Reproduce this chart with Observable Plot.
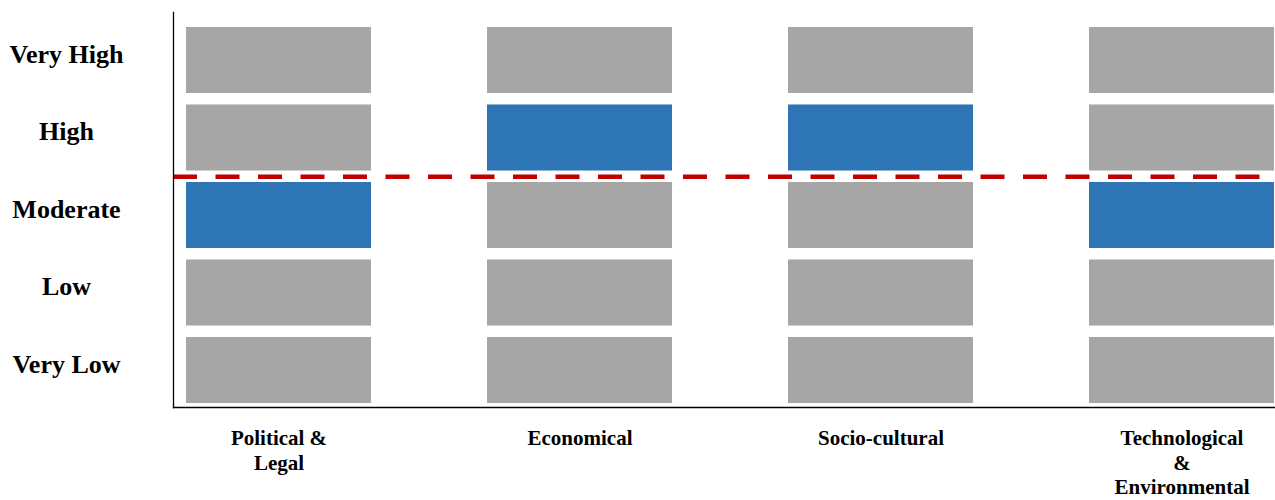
<!DOCTYPE html>
<html>
<head>
<meta charset="utf-8">
<script src="https://cdn.jsdelivr.net/npm/d3@7"></script>
<script src="https://cdn.jsdelivr.net/npm/@observablehq/plot@0.6"></script>
<style>
  html, body { margin: 0; padding: 0; background: #fff; }
  #chart svg { font-family: "Liberation Serif", "DejaVu Serif", serif; font-weight: bold; }
</style>
</head>
<body>
<div id="chart"></div>
<script>
// PESTLE-style factor assessment grid
const factors = ["Political & Legal", "Economical", "Socio-cultural", "Technological & Environmental"];
const factorLabels = ["Political &\nLegal", "Economical", "Socio-cultural", "Technological\n&\nEnvironmental"];
const levels = ["Very Low", "Low", "Moderate", "High", "Very High"];
const ratings = ["Moderate", "High", "High", "Moderate"];
// boundary between "Moderate" (3) and "High" (4)
const threshold = 3.5;

const cells = factors.flatMap((f, i) =>
  levels.map((lv, j) => ({
    factor: f,
    level: j + 1,
    active: ratings[i] === lv
  }))
);

const half = 0.426; // half of a cell's height, in level units

const chart = Plot.plot({
  width: 1275,
  height: 500,
  marginLeft: 173,
  marginRight: 0,
  marginTop: 12,
  marginBottom: 93,
  x: { type: "band", domain: factors, paddingInner: 0.386, paddingOuter: 0.0216, align: 0.93, axis: null },
  y: { type: "linear", domain: [0.523, 5.619], axis: null },
  marks: [
    Plot.rect(cells, {
      x: "factor",
      y1: d => d.level - half,
      y2: d => d.level + half,
      fill: d => d.active ? "#2e75b6" : "#a6a6a6"
    }),
    Plot.ruleY([threshold], { stroke: "#c00000", strokeWidth: 4.5, strokeDasharray: "24,18.5" }),
    Plot.frame({ anchor: "left", stroke: "#000", strokeWidth: 1.3 }),
    Plot.frame({ anchor: "bottom", stroke: "#000", strokeWidth: 1.3 }),
    Plot.axisY({
      ticks: levels.map((_, j) => j + 1),
      tickFormat: v => levels[v - 1],
      tickSize: 0,
      tickPadding: 107,
      textAnchor: "middle",
      fontSize: 26,
      fontWeight: "bold",
      fill: "#000",
      dy: -6,
      label: null
    }),
    Plot.axisX({
      tickFormat: f => factorLabels[factors.indexOf(f)],
      tickSize: 0,
      tickPadding: 20,
      fontSize: 21,
      fontWeight: "bold",
      fill: "#000",
      lineHeight: 1.17,
      label: null
    })
  ]
});

document.getElementById("chart").append(chart);
</script>
</body>
</html>
